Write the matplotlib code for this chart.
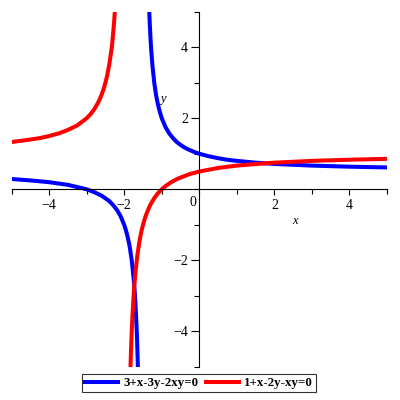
import matplotlib
matplotlib.use('Agg')
import matplotlib.pyplot as plt
from matplotlib.ticker import MultipleLocator

# points, one list per branch
blue_left_x = [-5.0, -4.5, -4.0, -3.5, -3.0, -2.8, -2.6, -2.4, -2.3, -2.2, -2.1, -2.0, -1.95,
               -1.9, -1.85, -1.8, -1.75, -1.72, -1.7, -1.68, -1.66, -1.65, -1.636]
blue_left_y = [0.29, 0.25, 0.2, 0.125, 0.0, -0.08, -0.18, -0.33, -0.44, -0.57, -0.75, -1.0, -1.17,
               -1.38, -1.64, -2.0, -2.5, -2.9, -3.25, -3.67, -4.15, -4.5, -5.0]
blue_right_x = [-1.333, -1.32, -1.3, -1.28, -1.25, -1.2, -1.15, -1.1, -1.05, -1.0, -0.9, -0.8, -0.7,
                -0.6, -0.5, -0.4, -0.3, -0.2, -0.1, 0.0, 0.25, 0.5, 0.75, 1.0, 1.5, 2.0, 2.5, 3.0, 4.0, 5.0]
blue_right_y = [5.0, 4.67, 4.25, 3.91, 3.5, 3.0, 2.64, 2.38, 2.17, 2.0, 1.75, 1.57, 1.44,
                1.33, 1.25, 1.18, 1.125, 1.08, 1.036, 1.0, 0.93, 0.875, 0.83, 0.8, 0.75, 0.714, 0.69, 0.667, 0.636, 0.615]

red_left_x = [-5.0, -4.5, -4.25, -4.0, -3.75, -3.5, -3.25, -3.0, -2.9, -2.8, -2.7, -2.65, -2.6,
              -2.55, -2.5, -2.45, -2.4, -2.36, -2.33, -2.3, -2.27, -2.25]
red_left_y = [1.33, 1.4, 1.44, 1.5, 1.57, 1.67, 1.8, 2.0, 2.11, 2.25, 2.43, 2.54, 2.67,
              2.82, 3.0, 3.22, 3.5, 3.78, 4.0, 4.33, 4.7, 5.0]
red_right_x = [-1.833, -1.82, -1.8, -1.78, -1.75, -1.72, -1.7, -1.65, -1.6, -1.55, -1.5, -1.45, -1.4,
               -1.333, -1.3, -1.2, -1.1, -1.0, -0.9, -0.75, -0.6, -0.5, -0.25, 0.0, 0.5, 1.0, 1.5,
               2.0, 3.0, 4.0, 5.0]
red_right_y = [-5.0, -4.56, -4.0, -3.55, -3.0, -2.57, -2.33, -1.86, -1.5, -1.22, -1.0, -0.82, -0.67,
               -0.5, -0.43, -0.25, -0.11, 0.0, 0.09, 0.2, 0.286, 0.33, 0.43, 0.5, 0.6, 0.667, 0.71,
               0.75, 0.8, 0.833, 0.857]

labels = ['3+x-3y-2xy=0', '1+x-2y-xy=0']

plt.rcParams['font.family'] = 'Liberation Serif'

fig = plt.figure(figsize=(4, 4), dpi=100)
ax = fig.add_axes([0.029, 0.0825, 0.9385, 0.8885])

ax.plot(blue_left_x, blue_left_y, color='#0000ff', lw=2.9, label=labels[0])
ax.plot(blue_right_x, blue_right_y, color='#0000ff', lw=2.9)
ax.plot(red_left_x, red_left_y, color='#ff0000', lw=2.9, label=labels[1])
ax.plot(red_right_x, red_right_y, color='#ff0000', lw=2.9)

ax.set_xlim(-5, 5)
ax.set_ylim(-5, 5)

ax.spines['left'].set_position(('data', 0))
ax.spines['bottom'].set_position(('data', 0))
ax.spines['top'].set_visible(False)
ax.spines['right'].set_visible(False)
for s in ['left', 'bottom']:
    ax.spines[s].set_linewidth(0.8)

ax.set_xticks([-4, -2, 2, 4])
ax.set_yticks([-4, -2, 2, 4])
ax.xaxis.set_minor_locator(MultipleLocator(1))
ax.yaxis.set_minor_locator(MultipleLocator(1))
ax.tick_params(axis='x', which='major', direction='out', length=4, width=0.8, pad=3, labelsize=10)
ax.tick_params(axis='y', which='major', direction='out', length=6, width=0.8, pad=2, labelsize=10)
ax.tick_params(which='minor', direction='out', length=3.5, width=0.8)

ax.text(-0.08, -0.2, '0', ha='right', va='top', fontsize=10)
ax.text(2.56, -0.9, 'x', ha='center', va='center', fontsize=9, style='italic')
ax.text(-0.97, 2.53, 'y', ha='center', va='center', fontsize=9, style='italic')

leg = fig.legend(loc='center', bbox_to_anchor=(0.4975, 0.0425), ncol=2, frameon=True,
                 fancybox=False, edgecolor='black', handlelength=2.6, handletextpad=0.4,
                 columnspacing=0.55, borderpad=0.2, prop={'weight': 'bold', 'size': 9.3})
leg.get_frame().set_linewidth(0.8)

fig.savefig('out.png', dpi=100)
